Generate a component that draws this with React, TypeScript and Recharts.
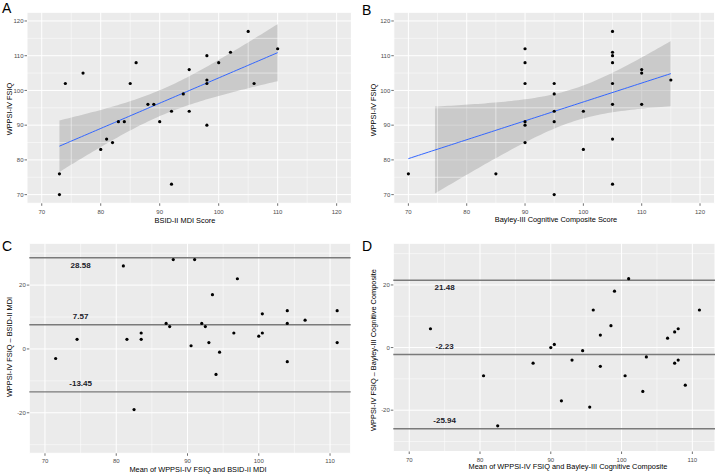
import React from 'react';
import {
  ComposedChart,
  ScatterChart,
  Scatter,
  Line,
  Area,
  XAxis,
  YAxis,
  CartesianGrid,
  ReferenceLine,
} from 'recharts';

// Panel A: BSID-II MDI score vs WPPSI-IV FSIQ
const mdiA = [73, 73, 74, 77, 80, 81, 82, 83, 84, 85, 86, 88, 89, 90, 92, 92, 94, 95, 95, 98, 98, 98, 98, 100, 102, 105, 106, 110];
const fsiqA = [76, 70, 102, 105, 83, 86, 85, 91, 91, 102, 108, 96, 96, 91, 94, 73, 99, 106, 94, 110, 103, 102, 90, 108, 111, 117, 102, 112];

// Panel B: Bayley-III cognitive composite vs WPPSI-IV FSIQ
const bayleyB = [70, 85, 90, 90, 90, 90, 90, 90, 95, 95, 95, 95, 95, 100, 100, 105, 105, 105, 105, 105, 105, 105, 105, 110, 110, 110, 115];
const fsiqB = [76, 76, 112, 108, 102, 91, 90, 85, 102, 99, 94, 91, 70, 94, 83, 117, 111, 110, 108, 102, 96, 86, 73, 106, 105, 96, 103];

// Panel C: Bland-Altman, FSIQ vs MDI
const meanC = [71.5, 74.5, 81, 81.5, 82.5, 83.5, 83.5, 87, 87.5, 88, 90.5, 91, 92, 92.5, 93, 93.5, 94, 94.5, 96.5, 97, 100, 100.5, 100.5, 104, 104, 104, 106.5, 111, 111];
const diffC = [-3, 3, 26, 3, -19, 5, 3, 8, 7, 28, 1, 28, 8, 7, 2, 17, -8, -1, 5, 22, 4, 11, 5, 12, 8, -4, 9, 12, 2];
const limitsC = [28.58, 7.57, -13.45];

// Panel D: Bland-Altman, FSIQ vs Bayley-III
const meanD = [73, 80.5, 82.5, 87.5, 90, 90.5, 91.5, 93, 94.5, 95.5, 96, 97, 97, 98.5, 99, 100.5, 101, 103, 103.5, 106.5, 107.5, 107.5, 108, 108, 109, 111];
const diffD = [6, -9, -25, -5, 0, 1, -17, -4, -1, -19, 12, 4, -6, 7, 18, -9, 22, -14, -3, 3, 5, -5, 6, -4, -12, 12];
const limitsD = [21.48, -2.23, -25.94];

const scoreTicks = [70, 80, 90, 100, 110, 120];
const scoreMinor = [75, 85, 95, 105, 115];
const meanTicks = [70, 80, 90, 100, 110];
const meanMinor = [75, 85, 95, 105];
const diffTicks = [-20, 0, 20];
const diffMinor = [-30, -10, 10, 30];

const FONT = '"Liberation Sans", Arial, sans-serif';
const BG = '#EBEBEB';
const tickStyle = { fontSize: 6, fill: '#4D4D4D', fontFamily: FONT };

const toPoints = (xs: number[], ys: number[]) => xs.map((x, i) => ({ x, y: ys[i] }));

// linear fit with 95% confidence band, as geom_smooth(method = "lm")
function lmBand(xs: number[], ys: number[], tq: number) {
  const n = xs.length;
  const mx = xs.reduce((a, b) => a + b, 0) / n;
  const my = ys.reduce((a, b) => a + b, 0) / n;
  let sxx = 0;
  let sxy = 0;
  xs.forEach((x, i) => {
    sxx += (x - mx) * (x - mx);
    sxy += (x - mx) * (ys[i] - my);
  });
  const b = sxy / sxx;
  const a = my - b * mx;
  let sse = 0;
  xs.forEach((x, i) => {
    const r = ys[i] - (a + b * x);
    sse += r * r;
  });
  const s = Math.sqrt(sse / (n - 2));
  const lo = Math.min(...xs);
  const hi = Math.max(...xs);
  const rows = [];
  for (let i = 0; i < 80; i++) {
    const x = lo + ((hi - lo) * i) / 79;
    const fit = a + b * x;
    const se = s * Math.sqrt(1 / n + ((x - mx) * (x - mx)) / sxx);
    rows.push({ x, fit, lower: fit - tq * se, upper: fit + tq * se });
  }
  return rows;
}

const Dot = (p: any) => <circle cx={p.cx} cy={p.cy} r={1.6} fill="#000" />;

const txt = (style: React.CSSProperties, text: string) => (
  <div style={{ position: 'absolute', fontFamily: FONT, whiteSpace: 'nowrap', lineHeight: 1, ...style }}>{text}</div>
);

const yTitle = (left: number, top: number, text: string) => (
  <div
    style={{
      position: 'absolute',
      left,
      top,
      width: 0,
      height: 0,
      fontFamily: FONT,
      fontSize: 7.4,
      color: '#000',
    }}
  >
    <div style={{ position: 'absolute', transform: 'translate(-50%, -50%) rotate(-90deg)', whiteSpace: 'nowrap', lineHeight: 1 }}>
      {text}
    </div>
  </div>
);

const xTitle = (cx: number, cy: number, text: string) =>
  txt({ left: cx, top: cy, transform: 'translate(-50%, -50%)', fontSize: 7.4, color: '#000' }, text);

interface FitPanelProps {
  xs: number[];
  ys: number[];
  tq: number;
  left: number;
  margin: { top: number; right: number; bottom: number; left: number };
}

const FitPanel = ({ xs, ys, tq, left, margin }: FitPanelProps) => {
  const rows = lmBand(xs, ys, tq);
  const lineData = rows.map((r) => ({ x: r.x, fit: r.fit }));
  // out-of-limit ribbon rows are dropped, as ggplot does with scale limits
  const bandData = rows
    .filter((r) => r.lower >= 70 && r.upper <= 120)
    .map((r) => ({ x: r.x, band: [r.lower, r.upper] }));
  return (
    <div style={{ position: 'absolute', left, top: 0 }}>
      <ComposedChart width={left === 0 ? 360 : 359} height={236} margin={margin}>
        <CartesianGrid fill={BG} stroke="#fff" strokeWidth={1} />
        {scoreMinor.map((v) => (
          <ReferenceLine key={'vx' + v} x={v} stroke="#fff" strokeWidth={0.5} />
        ))}
        {scoreMinor.map((v) => (
          <ReferenceLine key={'hy' + v} y={v} stroke="#fff" strokeWidth={0.5} />
        ))}
        <XAxis
          type="number"
          dataKey="x"
          domain={[67.5, 122.5]}
          ticks={scoreTicks}
          allowDataOverflow
          axisLine={false}
          tickLine={{ stroke: '#333', strokeWidth: 0.7 }}
          tickSize={2.5}
          tickMargin={3.5}
          height={20}
          tick={tickStyle}
        />
        <YAxis
          type="number"
          domain={[67.5, 122.5]}
          ticks={scoreTicks}
          allowDataOverflow
          axisLine={false}
          tickLine={{ stroke: '#333', strokeWidth: 0.7 }}
          tickSize={2.5}
          tickMargin={1}
          width={20}
          tick={tickStyle}
        />
        <Area
          data={bandData}
          dataKey="band"
          stroke="none"
          fill="#999999"
          fillOpacity={0.4}
          isAnimationActive={false}
        />
        <Line data={lineData} dataKey="fit" stroke="#3366FF" strokeWidth={1} dot={false} isAnimationActive={false} />
        <Scatter data={toPoints(xs, ys)} dataKey="y" shape={Dot} isAnimationActive={false} />
      </ComposedChart>
    </div>
  );
};

const LimitLabel = (props: any) => {
  const { viewBox, text, at, domain, shift } = props;
  if (!viewBox) return null;
  const px = viewBox.x + ((at - domain[0]) / (domain[1] - domain[0])) * viewBox.width;
  return (
    <text
      x={px}
      y={viewBox.y + shift}
      textAnchor="middle"
      dominantBaseline="central"
      fontSize={8}
      fontWeight="bold"
      fontFamily={FONT}
      fill="#1b1b2a"
    >
      {text}
    </text>
  );
};

interface BAPanelProps {
  xs: number[];
  ys: number[];
  limits: number[];
  xDomain: number[];
  yDomain: number[];
  left: number;
  width: number;
  margin: { top: number; right: number; bottom: number; left: number };
}

const BAPanel = ({ xs, ys, limits, xDomain, yDomain, left, width, margin }: BAPanelProps) => (
  <div style={{ position: 'absolute', left, top: 236 }}>
    <ScatterChart width={width} height={240} margin={margin}>
      <CartesianGrid fill={BG} stroke="#fff" strokeWidth={1} />
      {meanMinor.map((v) => (
        <ReferenceLine key={'vx' + v} x={v} stroke="#fff" strokeWidth={0.5} />
      ))}
      {diffMinor.map((v) => (
        <ReferenceLine key={'hy' + v} y={v} stroke="#fff" strokeWidth={0.5} />
      ))}
      <XAxis
        type="number"
        dataKey="x"
        domain={xDomain}
        ticks={meanTicks}
        allowDataOverflow
        axisLine={false}
        tickLine={{ stroke: '#333', strokeWidth: 0.7 }}
        tickSize={2.5}
        tickMargin={3.3}
        height={16}
        tick={tickStyle}
      />
      <YAxis
        type="number"
        dataKey="y"
        domain={yDomain}
        ticks={diffTicks}
        allowDataOverflow
        axisLine={false}
        tickLine={{ stroke: '#333', strokeWidth: 0.7 }}
        tickSize={2.5}
        tickMargin={1}
        width={20}
        tick={tickStyle}
      />
      {limits.map((v, i) => (
        <ReferenceLine
          key={'lim' + i}
          y={v}
          stroke="#7a7a7a"
          strokeWidth={1.4}
          label={<LimitLabel text={v.toFixed(2)} at={75} domain={xDomain} shift={i === 0 ? 7.5 : -8.5} />}
        />
      ))}
      <Scatter data={toPoints(xs, ys)} shape={Dot} isAnimationActive={false} />
    </ScatterChart>
  </div>
);

export default function App() {
  return (
    <div style={{ position: 'absolute', left: 0, top: 0, width: 719, height: 476, background: '#fff', overflow: 'hidden' }}>
      <FitPanel xs={mdiA} ys={fsiqA} tq={2.0555} left={0} margin={{ top: 12.3, right: 8.6, bottom: 12.7, left: 7 }} />
      <FitPanel xs={bayleyB} ys={fsiqB} tq={2.0595} left={360} margin={{ top: 12.3, right: 4.4, bottom: 12.7, left: 13.8 }} />
      <BAPanel
        xs={meanC}
        ys={diffC}
        limits={limitsC}
        xDomain={[67.8, 112.9]}
        yDomain={[-32.7, 33.1]}
        left={0}
        width={360}
        margin={{ top: 7.3, right: 9.3, bottom: 6.7, left: 9.3 }}
      />
      <BAPanel
        xs={meanD}
        ys={diffD}
        limits={limitsD}
        xDomain={[67.75, 113.2]}
        yDomain={[-33.2, 33.3]}
        left={360}
        width={359}
        margin={{ top: 7.3, right: 4, bottom: 8.5, left: 13.3 }}
      />

      {txt({ left: 2, top: 0, fontSize: 14, lineHeight: 1.15 }, 'A')}
      {txt({ left: 362, top: 2, fontSize: 14, lineHeight: 1.15 }, 'B')}
      {txt({ left: 2, top: 238, fontSize: 14, lineHeight: 1.15 }, 'C')}
      {txt({ left: 362, top: 238, fontSize: 14, lineHeight: 1.15 }, 'D')}

      {yTitle(9.5, 109, 'WPPSI-IV FSIQ')}
      {yTitle(374, 110, 'WPPSI-IV FSIQ')}
      {yTitle(10, 347, 'WPPSI-IV FSIQ \u2013 BSID-II MDI')}
      {yTitle(373.5, 350, 'WPPSI-IV FSIQ \u2013 Bayley-III Cognitive Composite')}

      {xTitle(185, 220.7, 'BSID-II MDI Score')}
      {xTitle(556, 219.5, 'Bayley-III Cognitive Composite Score')}
      {xTitle(198, 470, 'Mean of WPPSI-IV FSIQ and BSID-II MDI')}
      {xTitle(568, 466.7, 'Mean of WPPSI-IV FSIQ and Bayley-III Cognitive Composite')}
    </div>
  );
}
